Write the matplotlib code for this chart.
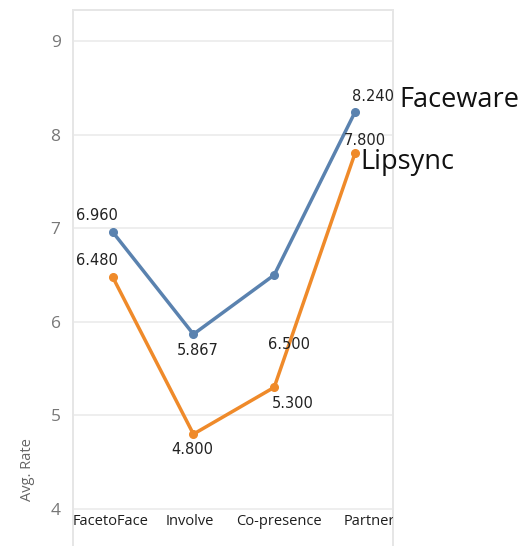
import matplotlib.pyplot as plt
import numpy as np

categories = ['FacetoFace', 'Involve', 'Co-presence', 'Partner']
faceware = [6.960, 5.867, 6.500, 8.240]
lipsync = [6.480, 4.800, 5.300, 7.800]
y_ticks = [4, 5, 6, 7, 8, 9]

blue = '#5a82af'
orange = '#ef8a2a'

fig = plt.figure(figsize=(5.30, 5.46), dpi=100)
ax = fig.add_axes([73 / 530, 0, 320 / 530, 536 / 546])

x = np.arange(len(categories))
ax.plot(x, faceware, color=blue, lw=2.5, marker='o', ms=5.5)
ax.plot(x, lipsync, color=orange, lw=2.5, marker='o', ms=5.5)

ax.set_xlim(-0.49, 3.47)
ax.set_ylim(3.605, 9.33)

ax.set_yticks(y_ticks)
ax.set_yticklabels([str(t) for t in y_ticks], color='#777777', fontsize=12.5,
                   family='Open Sans')
ax.tick_params(axis='y', length=0, pad=9)
ax.set_xticks([])
ax.grid(axis='y', color='#ebebeb', lw=1.2)
ax.set_axisbelow(True)
for s in ['left', 'right', 'top']:
    ax.spines[s].set_color('#e6e6e6')
    ax.spines[s].set_linewidth(1.4)
ax.spines['bottom'].set_visible(False)

ax.set_ylabel('Avg. Rate', color='#666666', fontsize=10.5, family='Open Sans')
ax.yaxis.set_label_coords(-0.118, 0.142)

# category labels inside the plot, below the 4 line
label_shift = [-0.03, -0.05, 0.06, 0.18]
for i, c in enumerate(categories):
    ax.text(i + label_shift[i], 3.87, c, ha='center', va='center', fontsize=10.5,
            family='Open Sans', color='#1e1e1e', clip_on=True)

# value labels: offsets in points
face_off = [(-11, 11.5), (3, -12), (11, -50), (13, 11.5)]
lip_off = [(-11, 11.5), (-1, -11), (13, -11.5), (7, 9)]
for i, v in enumerate(faceware):
    ax.annotate(f'{v:.3f}', (i, v), xytext=face_off[i], textcoords='offset points',
                ha='center', va='center', fontsize=10.5, color='#222222')
for i, v in enumerate(lipsync):
    ax.annotate(f'{v:.3f}', (i, v), xytext=lip_off[i], textcoords='offset points',
                ha='center', va='center', fontsize=10.5, color='#222222')

ax.annotate('Faceware', (3, faceware[3]), xytext=(32, 9), textcoords='offset points',
            ha='left', va='center', fontsize=19.5, family='Open Sans', color='#111111',
            annotation_clip=False)
ax.annotate('Lipsync', (3, lipsync[3]), xytext=(3.5, -6.5), textcoords='offset points',
            ha='left', va='center', fontsize=19.5, family='Open Sans', color='#111111',
            annotation_clip=False)

fig.savefig('out.png', dpi=100)
